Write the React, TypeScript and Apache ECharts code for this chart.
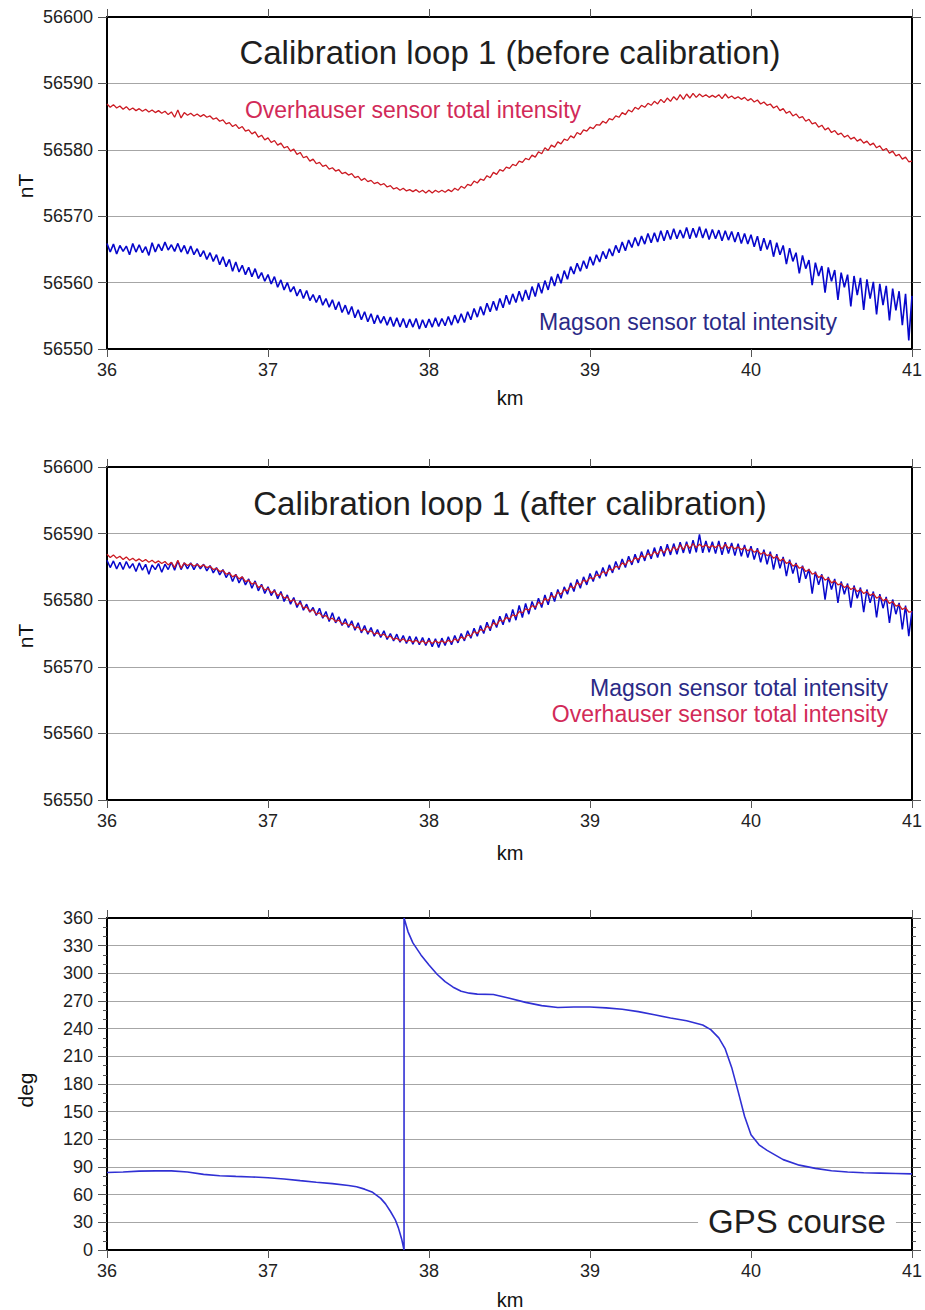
import React, { useEffect, useRef } from "react";
import * as echarts from "echarts";

const FONT = '"Liberation Sans", Arial, Helvetica, sans-serif';

// Sampling of the magnetometer profiles (km along track)
const KM_START = 36;
const KM_STEP = 0.02;

// Overhauser sensor total intensity (nT), same reference in both panels
const overhauserNT = [
  56586.9, 56586.4, 56586.8, 56586.3, 56586.6, 56586.1, 56586.5, 56586.0, 56586.3, 56585.9,
  56586.2, 56585.8, 56586.1, 56585.7, 56586.0, 56585.6, 56585.9, 56585.5, 56585.8, 56585.3,
  56585.7, 56584.9, 56586.0, 56584.8, 56585.6, 56585.2, 56585.5, 56585.1, 56585.4, 56585.0,
  56585.3, 56584.9, 56585.1, 56584.6, 56584.8, 56584.3, 56584.5, 56583.9, 56584.1, 56583.5,
  56583.8, 56583.2, 56583.5, 56582.8, 56583.0, 56582.4, 56582.7, 56581.9, 56582.2, 56581.5,
  56581.8, 56581.1, 56581.4, 56580.7, 56581.0, 56580.3, 56580.5, 56579.8, 56580.1, 56579.3,
  56579.6, 56578.8, 56579.0, 56578.3, 56578.6, 56577.9, 56578.1, 56577.5, 56577.7, 56577.1,
  56577.3, 56576.8, 56577.0, 56576.4, 56576.6, 56576.2, 56576.4, 56575.8, 56576.0, 56575.4,
  56575.7, 56575.2, 56575.4, 56574.9, 56575.1, 56574.7, 56574.9, 56574.4, 56574.6, 56574.1,
  56574.3, 56573.9, 56574.2, 56573.8, 56574.0, 56573.7, 56574.0, 56573.6, 56573.9, 56573.5,
  56573.9, 56573.5, 56573.9, 56573.6, 56573.9, 56573.6, 56574.0, 56573.7, 56574.2, 56573.9,
  56574.5, 56574.2, 56574.8, 56574.6, 56575.3, 56575.0, 56575.6, 56575.4, 56576.1, 56575.8,
  56576.6, 56576.3, 56577.0, 56576.8, 56577.4, 56577.2, 56577.8, 56577.6, 56578.3, 56578.1,
  56578.7, 56578.5, 56579.2, 56578.9, 56579.7, 56579.4, 56580.3, 56579.9, 56580.7, 56580.4,
  56581.2, 56580.9, 56581.6, 56581.4, 56582.1, 56581.8, 56582.6, 56582.3, 56583.0, 56582.8,
  56583.4, 56583.2, 56583.8, 56583.7, 56584.3, 56584.0, 56584.7, 56584.5, 56585.1, 56584.9,
  56585.6, 56585.3, 56586.0, 56585.7, 56586.4, 56586.1, 56586.7, 56586.4, 56587.0, 56586.7,
  56587.3, 56586.9, 56587.6, 56587.1, 56587.8, 56587.3, 56588.0, 56587.5, 56588.3, 56587.6,
  56588.4, 56587.8, 56588.5, 56587.9, 56588.4, 56588.0, 56588.3, 56587.9, 56588.2, 56587.9,
  56588.3, 56587.7, 56588.4, 56587.8, 56588.1, 56587.7, 56588.0, 56587.6, 56587.9, 56587.4,
  56587.7, 56587.2, 56587.5, 56586.9, 56587.2, 56586.7, 56586.9, 56586.3, 56586.6, 56585.9,
  56586.2, 56585.5, 56585.8, 56585.1, 56585.4, 56584.8, 56585.0, 56584.3, 56584.6, 56583.9,
  56584.1, 56583.4, 56583.7, 56583.0, 56583.3, 56582.6, 56582.9, 56582.3, 56582.5, 56581.9,
  56582.2, 56581.6, 56581.9, 56581.3, 56581.6, 56581.0, 56581.3, 56580.7, 56581.0, 56580.3,
  56580.6, 56579.9, 56580.2, 56579.5, 56579.8, 56579.1, 56579.3, 56578.6, 56578.9, 56578.2,
  56578.3,
];

// Magson sensor total intensity before calibration (nT)
const magsonBeforeNT = [
  56565.9, 56564.6, 56565.8, 56564.3, 56565.6, 56564.7, 56565.5, 56564.2, 56565.9, 56564.6,
  56565.7, 56564.5, 56565.4, 56564.1, 56566.0, 56564.6, 56565.8, 56564.8, 56566.1, 56564.9,
  56565.7, 56564.7, 56565.9, 56564.6, 56565.6, 56564.3, 56565.5, 56564.2, 56565.1, 56563.9,
  56564.8, 56563.5, 56564.5, 56563.2, 56564.2, 56562.7, 56563.9, 56562.4, 56563.5, 56561.7,
  56563.1, 56561.6, 56562.6, 56561.2, 56562.3, 56560.9, 56562.1, 56560.6, 56561.5, 56560.2,
  56561.2, 56559.8, 56560.9, 56559.3, 56560.4, 56558.9, 56560.0, 56558.6, 56559.4, 56558.0,
  56559.0, 56557.6, 56558.8, 56557.3, 56558.2, 56557.0, 56558.1, 56556.6, 56557.6, 56556.3,
  56557.4, 56555.9, 56557.1, 56555.5, 56556.6, 56555.2, 56556.4, 56554.7, 56555.9, 56554.4,
  56555.6, 56554.1, 56555.3, 56553.8, 56555.1, 56553.9, 56554.9, 56553.6, 56554.8, 56553.4,
  56554.7, 56553.3, 56554.6, 56553.2, 56554.5, 56553.3, 56554.6, 56553.0, 56554.4, 56553.2,
  56554.5, 56553.3, 56554.7, 56553.4, 56554.6, 56553.5, 56554.9, 56553.6, 56555.1, 56553.9,
  56555.3, 56554.0, 56555.6, 56554.4, 56556.1, 56554.8, 56556.4, 56555.1, 56556.9, 56555.6,
  56557.2, 56555.8, 56557.6, 56556.2, 56558.1, 56556.7, 56558.3, 56557.0, 56558.7, 56557.2,
  56558.9, 56557.4, 56559.4, 56557.9, 56559.9, 56558.4, 56560.3, 56558.9, 56560.9, 56559.5,
  56561.3, 56559.9, 56561.8, 56560.5, 56562.4, 56561.3, 56562.9, 56561.7, 56563.3, 56562.1,
  56563.9, 56562.6, 56564.2, 56563.1, 56564.7, 56563.6, 56565.1, 56564.0, 56565.6, 56564.5,
  56566.1, 56564.8, 56566.4, 56565.3, 56566.8, 56565.5, 56567.0, 56565.8, 56567.4, 56566.0,
  56567.5, 56566.1, 56567.8, 56566.3, 56567.9, 56566.5, 56568.1, 56566.6, 56567.9, 56566.7,
  56568.3, 56566.6, 56568.2, 56566.8, 56568.4, 56566.7, 56568.1, 56566.5, 56568.0, 56566.6,
  56567.9, 56566.3, 56567.8, 56566.4, 56567.7, 56566.1, 56567.6, 56565.9, 56567.4, 56565.8,
  56567.2, 56565.4, 56567.0, 56564.8, 56566.7, 56565.0, 56566.4, 56563.9, 56566.0, 56564.2,
  56565.6, 56562.8, 56565.2, 56563.2, 56564.5, 56561.4, 56564.1, 56562.1, 56563.4, 56559.6,
  56563.0, 56561.0, 56562.5, 56558.5, 56562.3, 56560.2, 56561.9, 56557.4, 56561.5, 56559.3,
  56561.2, 56556.4, 56561.0, 56558.1, 56560.7, 56555.9, 56560.5, 56557.6, 56560.1, 56555.2,
  56559.8, 56556.6, 56559.5, 56554.3, 56559.1, 56555.8, 56558.7, 56553.6, 56558.3, 56551.3,
  56558.0,
];

// Magson sensor total intensity after calibration (nT)
const magsonAfterNT = [
  56586.0, 56584.9, 56585.9, 56584.7, 56585.7, 56584.6, 56585.8, 56584.8, 56585.5, 56584.3,
  56585.6, 56584.5, 56585.4, 56583.9, 56585.3, 56584.6, 56585.5, 56584.2, 56585.4, 56584.6,
  56585.7, 56584.5, 56585.9, 56584.6, 56585.6, 56584.7, 56585.6, 56584.6, 56585.5, 56584.7,
  56585.4, 56584.4, 56585.2, 56584.1, 56584.9, 56583.8, 56584.6, 56583.4, 56584.2, 56582.8,
  56583.9, 56582.6, 56583.5, 56582.3, 56583.2, 56581.8, 56582.9, 56581.4, 56582.4, 56581.0,
  56582.0, 56580.7, 56581.6, 56580.2, 56581.3, 56579.8, 56580.8, 56579.4, 56580.4, 56578.9,
  56579.9, 56578.5, 56579.4, 56578.2, 56578.9, 56577.7, 56578.8, 56577.3, 56578.3, 56576.8,
  56578.1, 56576.6, 56577.5, 56576.2, 56577.2, 56575.9, 56576.9, 56575.5, 56576.6, 56575.1,
  56576.2, 56574.9, 56575.9, 56574.6, 56575.6, 56574.4, 56575.4, 56574.1, 56575.0, 56573.9,
  56574.9, 56573.7, 56574.7, 56573.5, 56574.6, 56573.4, 56574.5, 56573.3, 56574.4, 56573.2,
  56574.3, 56573.0, 56574.2, 56572.9, 56574.3, 56573.2, 56574.5, 56573.3, 56574.7, 56573.6,
  56575.0, 56573.9, 56575.4, 56574.3, 56575.8, 56574.6, 56576.2, 56575.0, 56576.7, 56575.4,
  56577.1, 56575.9, 56577.6, 56576.3, 56578.0, 56576.7, 56578.6, 56577.0, 56579.2, 56577.4,
  56579.5, 56577.9, 56579.8, 56578.6, 56580.3, 56578.9, 56580.8, 56579.3, 56581.2, 56579.8,
  56581.6, 56580.3, 56582.0, 56580.9, 56582.6, 56581.3, 56583.1, 56581.8, 56583.5, 56582.3,
  56584.0, 56582.8, 56584.4, 56583.3, 56584.9, 56583.6, 56585.3, 56584.1, 56585.8, 56584.6,
  56586.2, 56584.9, 56586.6, 56585.3, 56586.9, 56585.6, 56587.3, 56585.9, 56587.6, 56586.2,
  56587.9, 56586.4, 56588.1, 56586.6, 56588.4, 56586.8, 56588.5, 56586.9, 56588.7, 56587.1,
  56588.8, 56587.0, 56589.0, 56587.2, 56589.9, 56587.1, 56588.9, 56587.2, 56588.8, 56587.0,
  56588.9, 56586.8, 56588.7, 56587.0, 56588.6, 56586.7, 56588.5, 56586.6, 56588.3, 56586.4,
  56588.1, 56586.1, 56587.8, 56585.7, 56587.6, 56585.4, 56587.3, 56584.6, 56586.9, 56584.8,
  56586.5, 56583.6, 56586.1, 56584.0, 56585.6, 56582.6, 56585.2, 56583.2, 56584.7, 56581.0,
  56584.3, 56582.3, 56583.9, 56580.1, 56583.5, 56581.6, 56583.2, 56579.6, 56582.8, 56580.9,
  56582.5, 56578.9, 56582.2, 56580.3, 56581.9, 56578.2, 56581.6, 56579.6, 56581.3, 56577.4,
  56580.9, 56578.8, 56580.5, 56576.6, 56580.1, 56577.9, 56579.6, 56575.6, 56579.2, 56574.6,
  56578.4,
];

// GPS course (deg)
const gpsKm = [
  36.0, 36.1, 36.2, 36.3, 36.4, 36.5, 36.6, 36.7, 36.8, 36.9,
  37.0, 37.1, 37.2, 37.3, 37.4, 37.5, 37.55, 37.6, 37.65, 37.7,
  37.73, 37.76, 37.79, 37.81, 37.83, 37.845, 37.845, 37.87, 37.9, 37.95,
  38.0, 38.05, 38.1, 38.15, 38.2, 38.25, 38.3, 38.4, 38.5, 38.6,
  38.7, 38.8, 38.9, 39.0, 39.1, 39.2, 39.3, 39.4, 39.5, 39.6,
  39.7, 39.75, 39.8, 39.84, 39.88, 39.92, 39.96, 40.0, 40.05, 40.1,
  40.2, 40.3, 40.4, 40.5, 40.6, 40.7, 40.8, 40.9, 41.0,
];
const gpsDeg = [
  84, 84.5, 85.5, 85.8, 85.8, 84.5, 82, 80.5, 79.8, 79.2,
  78.4, 77, 75.2, 73.5, 72, 70, 68.5, 66, 62.5, 56,
  50, 42, 33, 24, 12, 0, 360, 345, 333, 320,
  309, 299, 291, 285, 280.5, 278.5, 277.5, 277, 273, 268.5,
  265, 263, 263.5, 263.5, 262.5, 261, 258.5, 255, 251.5, 248.5,
  244, 239, 230, 218, 198, 172, 145, 125, 114, 108,
  98, 92, 88.5, 86, 84.5, 83.8, 83.4, 83, 82.5,
];

const KM_TICKS = { min: 36, max: 41, interval: 1 };
const NT_TICKS = { min: 56550, max: 56600, interval: 10 };
const DEG_TICKS = { min: 0, max: 360, interval: 30 };

const RED = "#cc1a22";
const BLUE = "#0707cc";
const GPS_BLUE = "#3030d4";

function toPairs(vals: number[]) {
  return vals.map((v, i) => [KM_START + i * KM_STEP, v]);
}

function panelAxes(grid: number, yTicks: { min: number; max: number; interval: number }, minor: boolean) {
  const line = { show: true, onZero: false, lineStyle: { color: "#000", width: 2 } };
  const tick = { show: true, inside: false, length: 8, lineStyle: { color: "#555", width: 1 } };
  const label = { show: true, color: "#222", fontSize: 18, fontFamily: FONT };
  const xBase = { gridIndex: grid, type: "value", ...KM_TICKS, axisLine: line, axisTick: tick, splitLine: { show: false } };
  const yBase = {
    gridIndex: grid,
    type: "value",
    ...yTicks,
    axisLine: line,
    axisTick: { ...tick, length: 9 },
    minorTick: minor ? { show: true, splitNumber: 3, length: 4, lineStyle: { color: "#555", width: 1 } } : { show: false },
  };
  return {
    x: [
      { ...xBase, position: "bottom", axisLabel: { ...label, margin: 12, formatter: (v: number) => String(v) } },
      { ...xBase, position: "top", axisLabel: { show: false } },
    ],
    y: [
      {
        ...yBase,
        position: "left",
        axisLabel: { ...label, margin: 14, formatter: (v: number) => String(v) },
        splitLine: { show: true, lineStyle: { color: "#a6a6a6", width: 1 } },
      },
      { ...yBase, position: "right", axisLabel: { show: false }, splitLine: { show: false } },
    ],
  };
}

function txt(text: string, x: number, y: number, size: number, color: string, align = "center", extra: any = {}, rotation = 0) {
  return {
    type: "text",
    x,
    y,
    rotation,
    z: 100,
    style: {
      text,
      fill: color,
      font: `${size}px ${FONT}`,
      textAlign: align,
      textVerticalAlign: "middle",
      verticalAlign: "middle",
      ...extra,
    },
  };
}

export default function App() {
  const ref = useRef<HTMLDivElement>(null);
  useEffect(() => {
    if (!ref.current) return;
    const chart = echarts.init(ref.current, null, { renderer: "svg" });
    const a1 = panelAxes(0, NT_TICKS, false);
    const a2 = panelAxes(1, NT_TICKS, false);
    const a3 = panelAxes(2, DEG_TICKS, true);
    const lineSeries = (name: string, data: any[], color: string, xi: number, width = 1) => ({
      name,
      type: "line",
      xAxisIndex: xi,
      yAxisIndex: xi,
      data,
      showSymbol: false,
      symbol: "none",
      silent: true,
      lineStyle: { color, width },
    });
    chart.setOption({
      animation: false,
      backgroundColor: "#fff",
      grid: [
        { left: 107, top: 17, width: 807, height: 332 },
        { left: 107, top: 467, width: 807, height: 333 },
        { left: 107, top: 918, width: 807, height: 332 },
      ],
      xAxis: [...a1.x, ...a2.x, ...a3.x],
      yAxis: [...a1.y, ...a2.y, ...a3.y],
      series: [
        lineSeries("Overhauser (before)", toPairs(overhauserNT), RED, 0, 1.3),
        lineSeries("Magson (before)", toPairs(magsonBeforeNT), BLUE, 0, 1.6),
        lineSeries("Magson (after)", toPairs(magsonAfterNT), BLUE, 2, 1.5),
        lineSeries("Overhauser (after)", toPairs(overhauserNT), RED, 2, 1.3),
        lineSeries("GPS course", gpsKm.map((k, i) => [k, gpsDeg[i]]), GPS_BLUE, 4, 1.6),
      ],
      graphic: [
        txt("Calibration loop 1 (before calibration)", 510, 52, 33, "#1e1e1e"),
        txt("Overhauser sensor total intensity", 413, 110, 23, "#d22a58"),
        txt("Magson sensor total intensity", 688, 322, 23, "#2b2a86"),
        txt("Calibration loop 1 (after calibration)", 510, 503, 33, "#1e1e1e"),
        txt("Magson sensor total intensity", 888, 688, 23, "#2b2a86", "right"),
        txt("Overhauser sensor total intensity", 888, 714, 23, "#d22a58", "right"),
        txt("GPS course", 797, 1221, 33, "#1e1e1e", "center", { backgroundColor: "#fff", padding: [0, 10] }),
        txt("km", 510, 398, 20, "#111"),
        txt("km", 510, 853, 20, "#111"),
        txt("km", 510, 1300, 20, "#111"),
        txt("nT", 25, 186, 21, "#111", "center", {}, Math.PI / 2),
        txt("nT", 25, 636, 21, "#111", "center", {}, Math.PI / 2),
        txt("deg", 25, 1090, 21, "#111", "center", {}, Math.PI / 2),
      ],
    });
    return () => chart.dispose();
  }, []);
  return <div ref={ref} style={{ position: "absolute", left: 0, top: 0, width: 925, height: 1310 }} />;
}
